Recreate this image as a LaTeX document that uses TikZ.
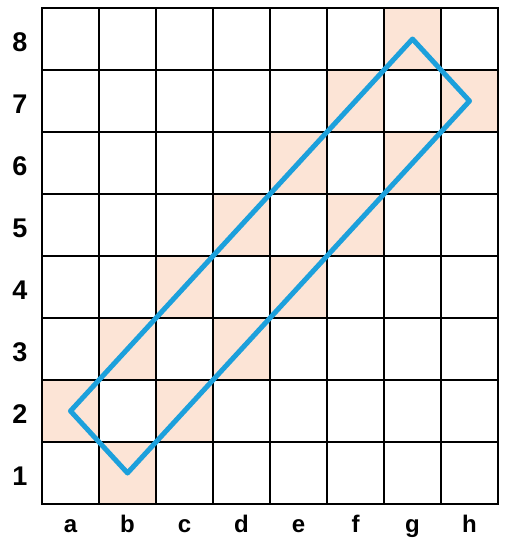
\documentclass[tikz,border=0pt]{standalone}
\usepackage{fontspec}
\setmainfont{Liberation Sans}
\usetikzlibrary{positioning}
\definecolor{peach}{HTML}{FCE4D6}
\definecolor{routeblue}{HTML}{1CA0DC}
\tikzstyle{square} = [rectangle, minimum width=57pt, minimum height=62pt, inner sep=0pt, outer sep=0pt, draw=black, line width=1.2pt]
\tikzstyle{rank} = [anchor=base, inner sep=0pt, font=\bfseries\fontsize{24}{24}\selectfont]
\tikzstyle{number} = [rank, font=\bfseries\fontsize{27}{27}\selectfont]
\tikzstyle{route} = [draw=routeblue, line width=5pt, line join=round, line cap=round]

\begin{document}
\begin{tikzpicture}[x=1pt, y=-1pt]
		\useasboundingbox (0,0) rectangle (510,554);
		% board, the cells next to the diagonal are tinted
		\foreach \col [count=\i] in {a,b,c,d,e,f,g,h} {
			\foreach \row in {1,...,8} {
				\pgfmathtruncatemacro\tint{abs(\i-\row)==1 ? 100 : 0}
				\node (\col\row) [square, fill=peach!\tint!white] at ({42+57*(\i-0.5)}, {504-62*(\row-0.5)}) {};
			}
			\node (file\col) [rank] at ({42+57*(\i-0.5)}, 532) {\col};
		}
		\foreach \row in {1,...,8}
			\node (rank\row) [number] at (20, {504-62*(\row-0.5)+12}) {\row};
		% the rectangle through the four squares
		\draw [route] (a2.center) -- (b1.center) -- (h7.center) -- (g8.center) -- cycle;
	\end{tikzpicture}
\end{document}
